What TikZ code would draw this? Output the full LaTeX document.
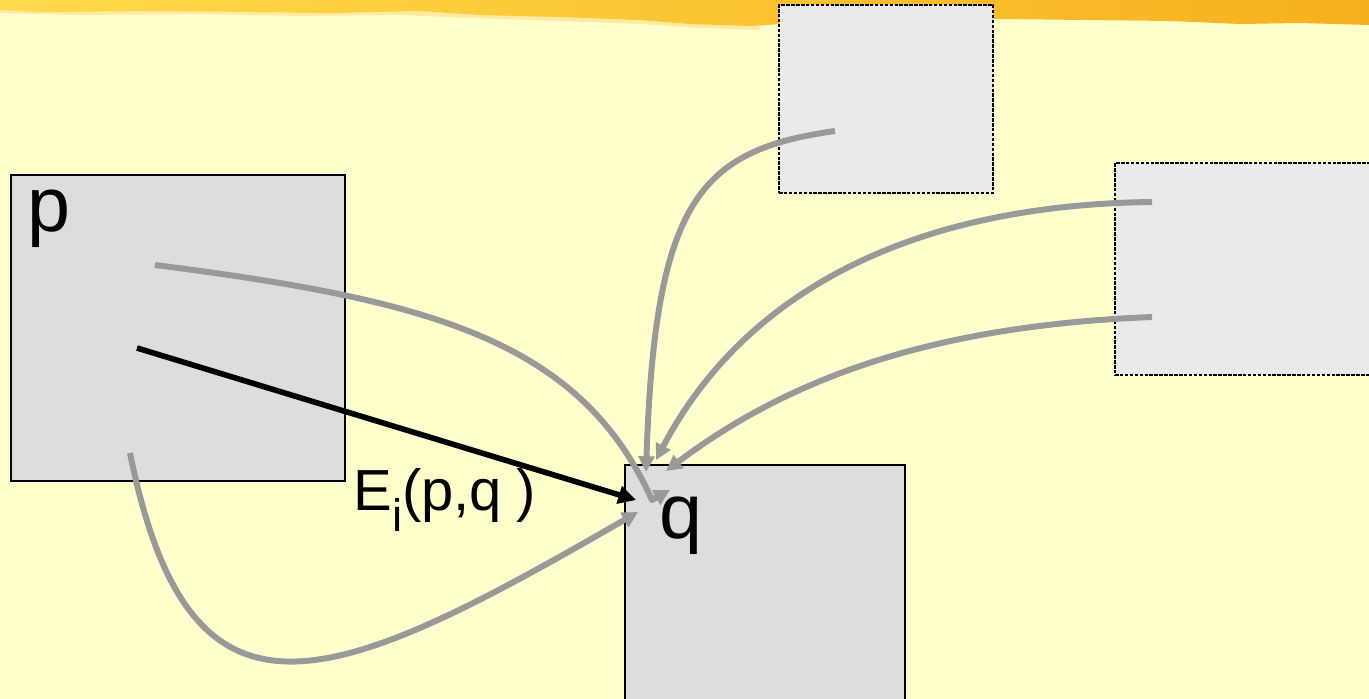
\documentclass[tikz,border=0pt]{standalone}
\usepackage{fontspec}
\setmainfont{Liberation Sans}
\usetikzlibrary{arrows.meta,positioning,calc}
\definecolor{paper}{HTML}{FFFFCC}
\definecolor{cellgray}{HTML}{DDDDDD}
\definecolor{ghostgray}{HTML}{EAEAEA}
\definecolor{flowgray}{HTML}{999999}
\definecolor{bandgold}{HTML}{FFDA4C}
\definecolor{bandorange}{HTML}{F7B01C}
\definecolor{bandpale}{HTML}{FFEAA0}
\tikzset{
  cellbox/.style={rectangle, draw=black, fill=cellgray, line width=1pt,
    inner sep=0pt},
  ghostbox/.style={rectangle, draw=black, fill=ghostgray, line width=1.6pt,
    dash pattern=on 2pt off 0.8pt, inner sep=0pt},
  cellname/.style={font=\fontsize{44}{48}\selectfont, inner sep=0pt,
    anchor=base west},
  edgename/.style={font=\fontsize{33}{36}\selectfont, inner sep=0pt,
    anchor=base west},
  flowarrow/.style={-{Triangle[length=9pt,width=9pt]}, line width=3.4pt,
    color=flowgray, line join=round},
  edgearrow/.style={-{Triangle[length=10pt,width=10pt]}, line width=3.2pt,
    black},
}

\begin{document}
\begin{tikzpicture}[x=0.02cm, y=-0.02cm]
\useasboundingbox (0,0) rectangle (1369,699);
\clip (0,0) rectangle (1369,699);
\fill[paper] (0,0) rectangle (1369,699);
% brush band along the top
\fill[bandpale] (0,0) -- (760,0) -- (760,30) -- (700,28) -- (640,24)
  -- (560,21) -- (470,18) -- (400,15) -- (300,16) -- (200,14)
  -- (80,15) -- (0,13) -- cycle;
\shade[left color=bandgold, right color=bandorange] (0,0) -- (1369,0)
  -- (1369,25) -- (1300,23) -- (1240,24) -- (1170,21) -- (1000,19)
  -- (800,23) -- (750,26) -- (690,24) -- (640,20) -- (560,17)
  -- (480,15) -- (420,11) -- (330,13) -- (250,12) -- (160,11)
  -- (40,12) -- (0,10) -- cycle;

\node[ghostbox, minimum width=4.28cm, minimum height=3.76cm] (src1) at (886,99) {};
\node[ghostbox, minimum width=5.7cm, minimum height=4.24cm] (src2) at (1257.5,269) {};
\node[cellbox, minimum width=6.68cm, minimum height=6.12cm] (p) at (178,328) {};
\node[cellbox, minimum width=5.6cm, minimum height=5.1cm] (q) at (765,592.5) {};

\node[cellname] (plabel) at (27,232) {p};
\node[cellname] (qlabel) at (659,538) {q};
\node[edgename] (elabel) at (353,510)
  {E\raisebox{-12pt}{\fontsize{26}{26}\selectfont i}(p,q\hspace{0.25em})};

\coordinate (p-top) at (155,265);
\coordinate (p-mid) at (137,348);
\coordinate (p-low) at (130,453);
\coordinate (s1-out) at (835,131);
\coordinate (s2-up) at (1152,202);
\coordinate (s2-low) at (1152,317);
\coordinate (q-bend) at (652,500);
\coordinate (q-hook) at (670,490);
\coordinate (q-west) at (636,500);
\coordinate (q-low) at (638,512);
\coordinate (q-top1) at (646,472);
\coordinate (q-top2) at (656,460);
\coordinate (q-top3) at (666,471);

\draw[flowarrow] (s1-out) .. controls (700,150) and (655,200) .. (q-top1);
\draw[flowarrow] (s2-up) .. controls (900,205) and (740,300) .. (q-top2);
\draw[flowarrow] (s2-low) .. controls (950,325) and (800,370) .. (q-top3);
\draw[flowarrow] (p-top) .. controls (430,300) and (580,340) .. (q-bend) -- (q-hook);
\draw[flowarrow] (p-low) .. controls (190,750) and (330,690) .. (q-low);
\draw[edgearrow] (p-mid) -- (q-west);
\end{tikzpicture}
\end{document}
